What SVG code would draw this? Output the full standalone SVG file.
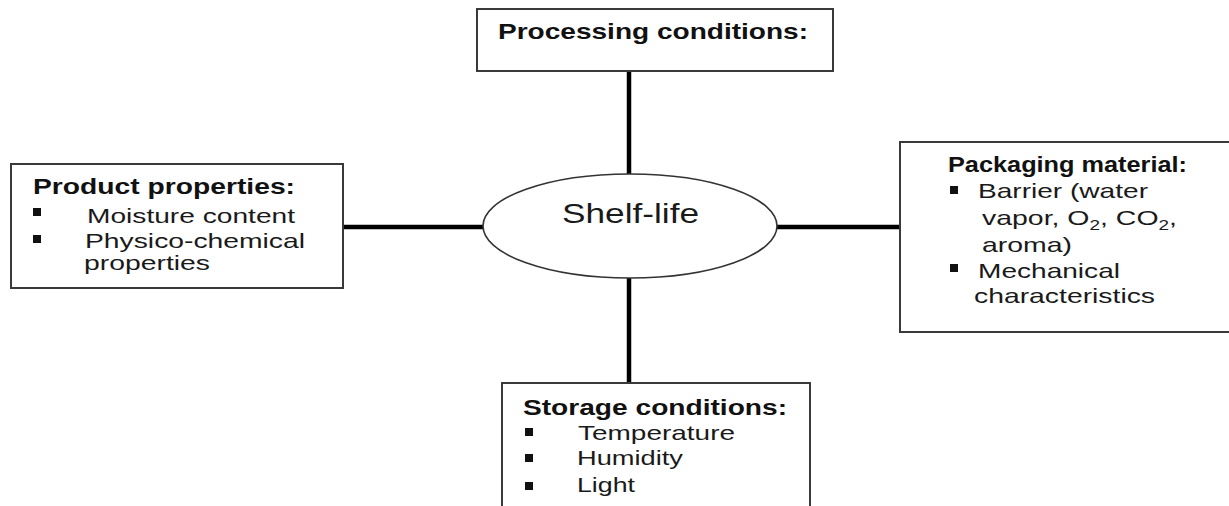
<svg xmlns="http://www.w3.org/2000/svg" width="1229" height="506" viewBox="0 0 1229 506">
<style>
.box{fill:#fff;stroke:#3a3a3a;stroke-width:2}
.conn{stroke:#000;stroke-width:4.5;fill:none}
.h{font-family:"Liberation Sans",Arial,sans-serif;font-weight:bold;font-size:22px;fill:#111}
.t{font-family:"Liberation Sans",Arial,sans-serif;font-size:21px;fill:#1a1a1a}
.b{fill:#111}
</style>
<rect width="1229" height="506" fill="#fff"/>
<g id="connectors">
<line class="conn" x1="629" y1="71" x2="629" y2="175"/>
<line class="conn" x1="629" y1="277" x2="629" y2="383"/>
<line class="conn" x1="343" y1="227" x2="484" y2="227"/>
<line class="conn" x1="776" y1="227" x2="900" y2="227"/>
</g>
<g id="processing">
<rect class="box" x="477" y="9" width="356" height="62"/>
<text class="h" x="498" y="39" textLength="310" lengthAdjust="spacingAndGlyphs">Processing conditions:</text>
</g>
<g id="shelf-life">
<ellipse cx="630" cy="226" rx="147" ry="52" fill="#fff" stroke="#333" stroke-width="1.6"/>
<text x="562" y="223" font-family="Liberation Sans, Arial, sans-serif" font-size="28" fill="#1a1a1a" textLength="137" lengthAdjust="spacingAndGlyphs">Shelf-life</text>
</g>
<g id="product">
<rect class="box" x="11" y="164" width="332" height="124"/>
<text class="h" x="33" y="194" textLength="262" lengthAdjust="spacingAndGlyphs">Product properties:</text>
<rect class="b" x="33" y="208" width="8" height="8"/>
<text class="t" x="87" y="223" textLength="208" lengthAdjust="spacingAndGlyphs">Moisture content</text>
<rect class="b" x="33" y="235" width="8" height="8"/>
<text class="t" x="85" y="248" textLength="220" lengthAdjust="spacingAndGlyphs">Physico-chemical</text>
<text class="t" x="84" y="270" textLength="126" lengthAdjust="spacingAndGlyphs">properties</text>
</g>
<g id="packaging">
<rect class="box" x="900" y="142" width="340" height="190"/>
<text class="h" x="948" y="172" textLength="239" lengthAdjust="spacingAndGlyphs">Packaging material:</text>
<rect class="b" x="950" y="186" width="8" height="8"/>
<text class="t" x="978" y="198" textLength="170" lengthAdjust="spacingAndGlyphs">Barrier (water</text>
<text class="t" x="982" y="225" textLength="195" lengthAdjust="spacingAndGlyphs">vapor, O<tspan font-size="14" dy="5">2</tspan><tspan dy="-5">, CO</tspan><tspan font-size="14" dy="5">2</tspan><tspan dy="-5">,</tspan></text>
<text class="t" x="982" y="252" textLength="90" lengthAdjust="spacingAndGlyphs">aroma)</text>
<rect class="b" x="950" y="264" width="8" height="8"/>
<text class="t" x="978" y="278" textLength="142" lengthAdjust="spacingAndGlyphs">Mechanical</text>
<text class="t" x="974" y="303" textLength="181" lengthAdjust="spacingAndGlyphs">characteristics</text>
</g>
<g id="storage">
<rect class="box" x="502" y="383" width="308" height="140"/>
<text class="h" x="523" y="415" textLength="264" lengthAdjust="spacingAndGlyphs">Storage conditions:</text>
<rect class="b" x="525" y="428" width="8" height="8"/>
<text class="t" x="578" y="440" textLength="157" lengthAdjust="spacingAndGlyphs">Temperature</text>
<rect class="b" x="525" y="454" width="8" height="8"/>
<text class="t" x="577" y="465" textLength="106" lengthAdjust="spacingAndGlyphs">Humidity</text>
<rect class="b" x="525" y="482" width="8" height="8"/>
<text class="t" x="577" y="492" textLength="58" lengthAdjust="spacingAndGlyphs">Light</text>
</g>
</svg>
